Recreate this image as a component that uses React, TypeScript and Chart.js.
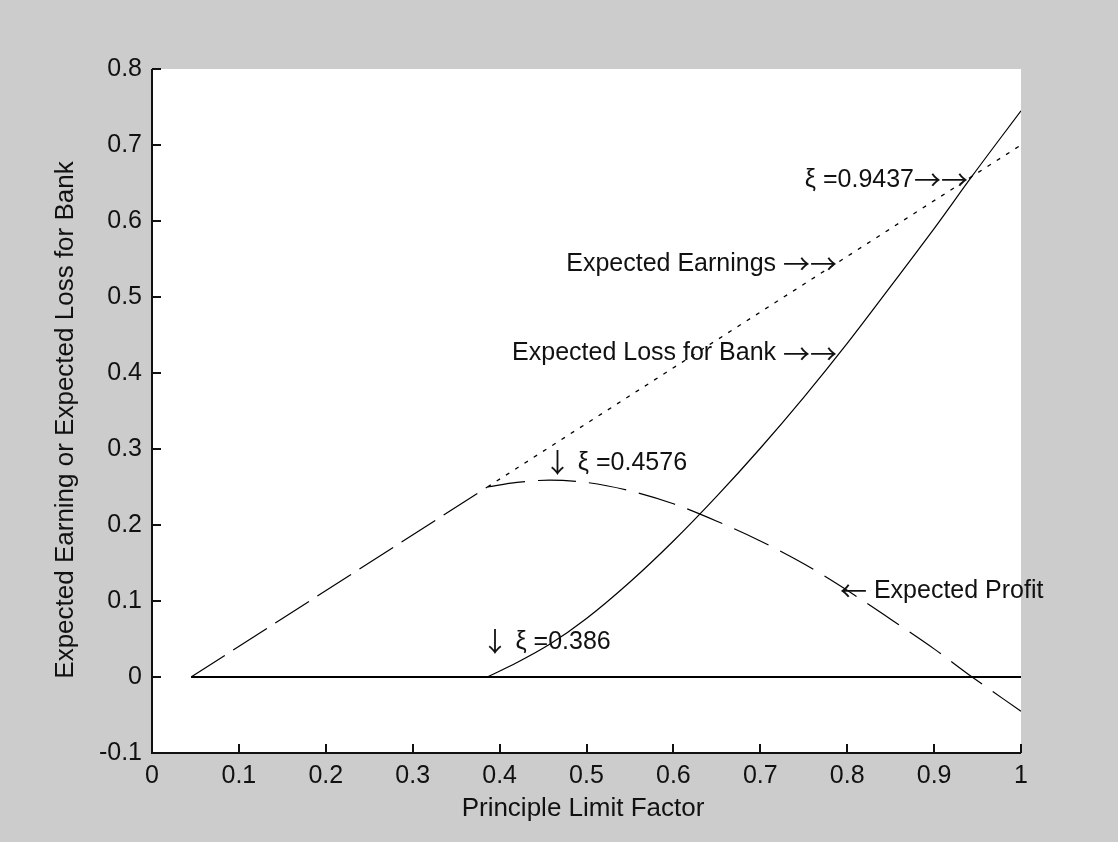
import React, { useEffect, useRef } from 'react';
import { Chart, registerables } from 'chart.js';

Chart.register(...registerables);

// ---- tick values / labels ----
const xTickValues = [0, 0.1, 0.2, 0.3, 0.4, 0.5, 0.6, 0.7, 0.8, 0.9, 1.0];
const xTickLabels = ['0', '0.1', '0.2', '0.3', '0.4', '0.5', '0.6', '0.7', '0.8', '0.9', '1'];
const yTickValues = [-0.1, 0, 0.1, 0.2, 0.3, 0.4, 0.5, 0.6, 0.7, 0.8];
const yTickLabels = ['-0.1', '0', '0.1', '0.2', '0.3', '0.4', '0.5', '0.6', '0.7', '0.8'];

const xTitle = 'Principle Limit Factor';
const yTitle = 'Expected Earning or Expected Loss for Bank';

// ---- series ----
const zeroLineX = [0.045, 1.0];
const zeroLineY = [0, 0];

const earnX = [0.386, 1.0];
const earnY = [0.25, 0.70];

const lossX = [0.386, 0.42, 0.4576, 0.5, 0.55, 0.6, 0.65, 0.7, 0.75, 0.8, 0.85, 0.9, 0.9437, 1.0];
const lossY = [0, 0.019, 0.043, 0.077, 0.125, 0.179, 0.238, 0.301, 0.368, 0.439, 0.514, 0.59, 0.659, 0.745];

const profitRiseX = [0.045, 0.386];
const profitRiseY = [0, 0.25];
const profitX = [0.386, 0.42, 0.4576, 0.5, 0.55, 0.6, 0.65, 0.7, 0.75, 0.8, 0.85, 0.9, 0.9437, 1.0];
const profitY = [0.25, 0.256, 0.259, 0.256, 0.245, 0.228, 0.205, 0.179, 0.149, 0.114, 0.076, 0.037, 0, -0.045];

// ---- annotations: text pieces, arrow symbols, anchor (data coords) ----
// align 'right': anchor = right end (arrow tip); align 'left': anchor = left edge
const notes = [
  { parts: [['ξ =0.9437', 't'], ['→→', 's']], x: 0.939, y: 0.654, align: 'right' },
  { parts: [['Expected Earnings ', 't'], ['→→', 's']], x: 0.7883, y: 0.5434, align: 'right' },
  { parts: [['Expected Loss for Bank ', 't'], ['→→', 's']], x: 0.7883, y: 0.4259, align: 'right' },
  { parts: [['↓', 's'], [' ξ =0.4576', 't']], x: 0.451, y: 0.2816, align: 'left' },
  { parts: [['↓', 's'], [' ξ =0.386', 't']], x: 0.3792, y: 0.0464, align: 'left' },
  { parts: [['←', 's'], [' Expected Profit', 't']], x: 0.7917, y: 0.1132, align: 'left' },
];

const FONT = "'Liberation Sans', Arial, Helvetica, sans-serif";
const SYM_FONT = "'Noto Sans CJK SC', 'DejaVu Sans', sans-serif";
const INK = '#111111';

const pts = (xs: number[], ys: number[]) => xs.map((x, i) => ({ x, y: ys[i] }));

const decorPlugin = {
  id: 'decor',
  beforeDraw(chart: any) {
    const { ctx, chartArea } = chart;
    const { left, top, right, bottom } = chartArea;
    ctx.save();
    ctx.fillStyle = '#ffffff';
    ctx.fillRect(left, top, right - left, bottom - top);
    ctx.restore();
  },
  afterDraw(chart: any) {
    const { ctx, chartArea } = chart;
    const { left, top, right, bottom } = chartArea;
    const xs = chart.scales.x;
    const ys = chart.scales.y;
    ctx.save();
    ctx.strokeStyle = INK;
    ctx.lineWidth = 2;
    ctx.beginPath();
    ctx.moveTo(left, top);
    ctx.lineTo(left, bottom);
    ctx.lineTo(right, bottom);
    for (const v of yTickValues) {
      const p = Math.round(ys.getPixelForValue(v));
      ctx.moveTo(left, p);
      ctx.lineTo(left + 9, p);
    }
    for (const v of xTickValues) {
      const p = Math.round(xs.getPixelForValue(v));
      ctx.moveTo(p, bottom);
      ctx.lineTo(p, bottom - 9);
    }
    ctx.stroke();

    ctx.fillStyle = INK;
    ctx.textBaseline = 'middle';
    ctx.textAlign = 'left';

    // axis titles
    ctx.font = `26px ${FONT}`;
    ctx.textAlign = 'center';
    ctx.fillText(xTitle, 583, 809);
    ctx.save();
    ctx.translate(66, 420);
    ctx.rotate(-Math.PI / 2);
    ctx.fillText(yTitle, 0, 0);
    ctx.restore();

    // annotations
    ctx.textAlign = 'left';
    const fontFor = (k: string) => (k === 's' ? `27px ${SYM_FONT}` : `25px ${FONT}`);
    for (const n of notes) {
      let total = 0;
      const widths = n.parts.map(([t, k]) => {
        ctx.font = fontFor(k);
        const w = ctx.measureText(t).width;
        total += w;
        return w;
      });
      let px = xs.getPixelForValue(n.x);
      const py = ys.getPixelForValue(n.y);
      if (n.align === 'right') px -= total;
      n.parts.forEach(([t, k], i) => {
        ctx.font = fontFor(k);
        ctx.fillText(t, px, py);
        px += widths[i];
      });
    }
    ctx.restore();
  },
};

export default function App() {
  const ref = useRef<HTMLCanvasElement>(null);

  useEffect(() => {
    const canvas = ref.current;
    if (!canvas) return;
    const lineBase = { pointRadius: 0, pointHoverRadius: 0, borderColor: '#000000', fill: false };
    const chart = new Chart(canvas, {
      type: 'line',
      data: {
        datasets: [
          { ...lineBase, label: 'Zero', data: pts(zeroLineX, zeroLineY), borderWidth: 2 },
          { ...lineBase, label: 'Expected Earnings', data: pts(earnX, earnY), borderWidth: 1.3, borderDash: [4, 7] },
          { ...lineBase, label: 'Expected Loss for Bank', data: pts(lossX, lossY), borderWidth: 1.2, cubicInterpolationMode: 'monotone' },
          { ...lineBase, label: 'Expected Profit (rise)', data: pts(profitRiseX, profitRiseY), borderWidth: 1.2, borderDash: [40, 10] },
          { ...lineBase, label: 'Expected Profit', data: pts(profitX, profitY), borderWidth: 1.2, borderDash: [38, 13], cubicInterpolationMode: 'monotone' },
        ],
      },
      options: {
        responsive: false,
        animation: false,
        devicePixelRatio: 1,
        layout: { padding: { left: 0, top: 69, right: 97, bottom: 0 } },
        plugins: { legend: { display: false }, tooltip: { enabled: false } },
        events: [],
        scales: {
          x: {
            type: 'linear',
            min: 0,
            max: 1,
            afterBuildTicks: (s: any) => {
              s.ticks = xTickValues.map((v) => ({ value: v }));
            },
            afterFit: (s: any) => {
              s.height = 89;
            },
            grid: { display: false, drawTicks: false },
            border: { display: false },
            ticks: {
              autoSkip: false,
              maxRotation: 0,
              padding: 8,
              color: INK,
              font: { family: FONT, size: 25 },
              callback: (v: any) => xTickLabels[xTickValues.findIndex((t) => Math.abs(t - Number(v)) < 1e-9)],
            },
            title: { display: false },
          },
          y: {
            type: 'linear',
            min: -0.1,
            max: 0.8,
            afterBuildTicks: (s: any) => {
              s.ticks = yTickValues.map((v) => ({ value: v }));
            },
            afterFit: (s: any) => {
              s.width = 152;
            },
            grid: { display: false, drawTicks: false },
            border: { display: false },
            ticks: {
              autoSkip: false,
              padding: 10,
              color: INK,
              font: { family: FONT, size: 25 },
              callback: (v: any) => yTickLabels[yTickValues.findIndex((t) => Math.abs(t - Number(v)) < 1e-9)],
            },
            title: { display: false },
          },
        },
      },
      plugins: [decorPlugin],
    } as any);
    return () => chart.destroy();
  }, []);

  return (
    <div style={{ position: 'fixed', left: 0, top: 0, width: 1118, height: 842, background: '#cccccc' }}>
      <canvas ref={ref} width={1118} height={842} style={{ display: 'block', width: 1118, height: 842 }} />
    </div>
  );
}
